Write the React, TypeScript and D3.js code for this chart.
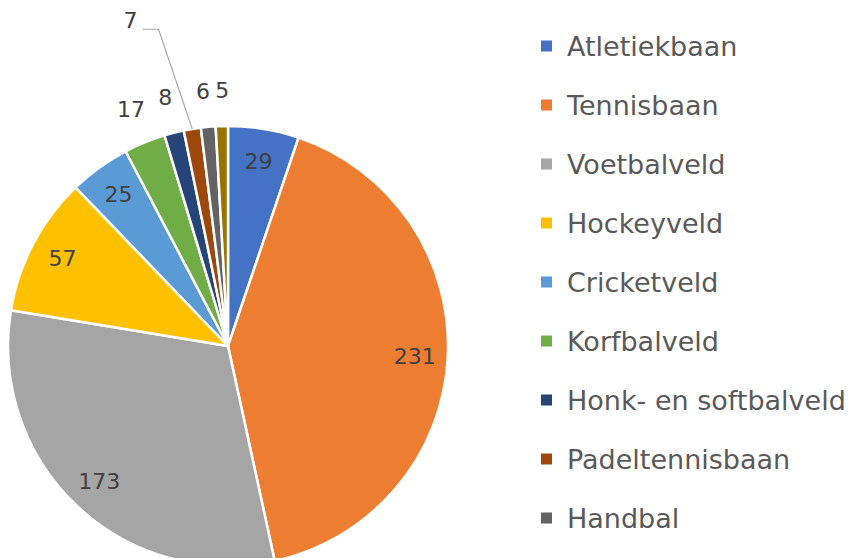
import React from "react";
import * as d3 from "d3";

const categories = [
  "Atletiekbaan",
  "Tennisbaan",
  "Voetbalveld",
  "Hockeyveld",
  "Cricketveld",
  "Korfbalveld",
  "Honk- en softbalveld",
  "Padeltennisbaan",
  "Handbal",
  "Overig",
];
const values = [29, 231, 173, 57, 25, 17, 8, 7, 6, 5];
const colors = [
  "#4472C4",
  "#ED7D31",
  "#A5A5A5",
  "#FFC000",
  "#5B9BD5",
  "#70AD47",
  "#264478",
  "#9E480E",
  "#636363",
  "#997300",
];
// label placement mode per slice: inside, outside, or outside with leader line
const labelMode = ["in", "in", "in", "in", "in", "out", "out", "leader", "out", "out"];

const W = 850;
const H = 558;
const CX = 228;
const CY = 346;
const R = 220;

export default function App() {
  const pie = d3
    .pie<number>()
    .sort(null)
    .value((d) => d);
  const arcs = pie(values);
  const arc = d3.arc<d3.PieArcDatum<number>>().innerRadius(0).outerRadius(R);
  const inArc = d3.arc<d3.PieArcDatum<number>>().innerRadius(187).outerRadius(187);
  const outArc = d3.arc<d3.PieArcDatum<number>>().innerRadius(256).outerRadius(256);

  const polar = (r: number, a: number) => [Math.sin(a) * r, -Math.cos(a) * r];

  const legendY = d3.scaleLinear().domain([0, 1]).range([46, 105]);
  // legend rows that fall inside the visible area (the last one is cropped off in the source)
  const legendItems = categories
    .map((c, i) => ({ c, i, y: legendY(i) }))
    .filter((d) => d.y + 14 < H);

  const labelProps = {
    textAnchor: "middle" as const,
    dominantBaseline: "central" as const,
    fontFamily: "DejaVu Sans",
    fontSize: 22,
    fill: "#404040",
  };

  return (
    <>
      <style>{`body{margin:0;background:#fff}`}</style>
      <svg width={W} height={H} style={{ display: "block" }}>
        <rect width={W} height={H} fill="#fff" />
        <g transform={`translate(${CX},${CY})`}>
          {arcs.map((a, i) => (
            <path key={i} d={arc(a) || ""} fill={colors[i]} stroke="#fff" strokeWidth={2.5} strokeLinejoin="round" />
          ))}
          {arcs.map((a, i) => {
            const mode = labelMode[i];
            const mid = (a.startAngle + a.endAngle) / 2;
            if (mode === "in") {
              const [x, y] = inArc.centroid(a);
              return (
                <text key={i} x={x} y={y} {...labelProps}>
                  {values[i]}
                </text>
              );
            }
            if (mode === "out") {
              const [x, y] = outArc.centroid(a);
              // small spread so neighbouring narrow-slice labels don't touch
              const spread = i === 8 ? -2 : i === 9 ? 1.5 : 0;
              return (
                <text key={i} x={x + spread} y={y} {...labelProps}>
                  {values[i]}
                </text>
              );
            }
            // leader line label
            const [px, py] = polar(R, mid);
            const [lx, ly] = polar(340, mid - (7.3 * Math.PI) / 180);
            const elbowX = lx + 28;
            const lineY = ly + 9;
            return (
              <g key={i}>
                <polyline
                  points={`${px},${py} ${elbowX},${lineY} ${lx + 12},${lineY}`}
                  fill="none"
                  stroke="#A6A6A6"
                  strokeWidth={1.2}
                />
                <text x={lx} y={ly} {...labelProps}>
                  {values[i]}
                </text>
              </g>
            );
          })}
        </g>
        <g>
          {legendItems.map(({ c, i, y }) => (
            <g key={c} transform={`translate(541,${y})`}>
              <rect x={0} y={-5.5} width={11} height={11} fill={colors[i]} />
              <text
                x={26}
                y={0}
                dominantBaseline="central"
                fontFamily="DejaVu Sans"
                fontSize={27}
                fill="#595959"
              >
                {c}
              </text>
            </g>
          ))}
        </g>
      </svg>
    </>
  );
}
